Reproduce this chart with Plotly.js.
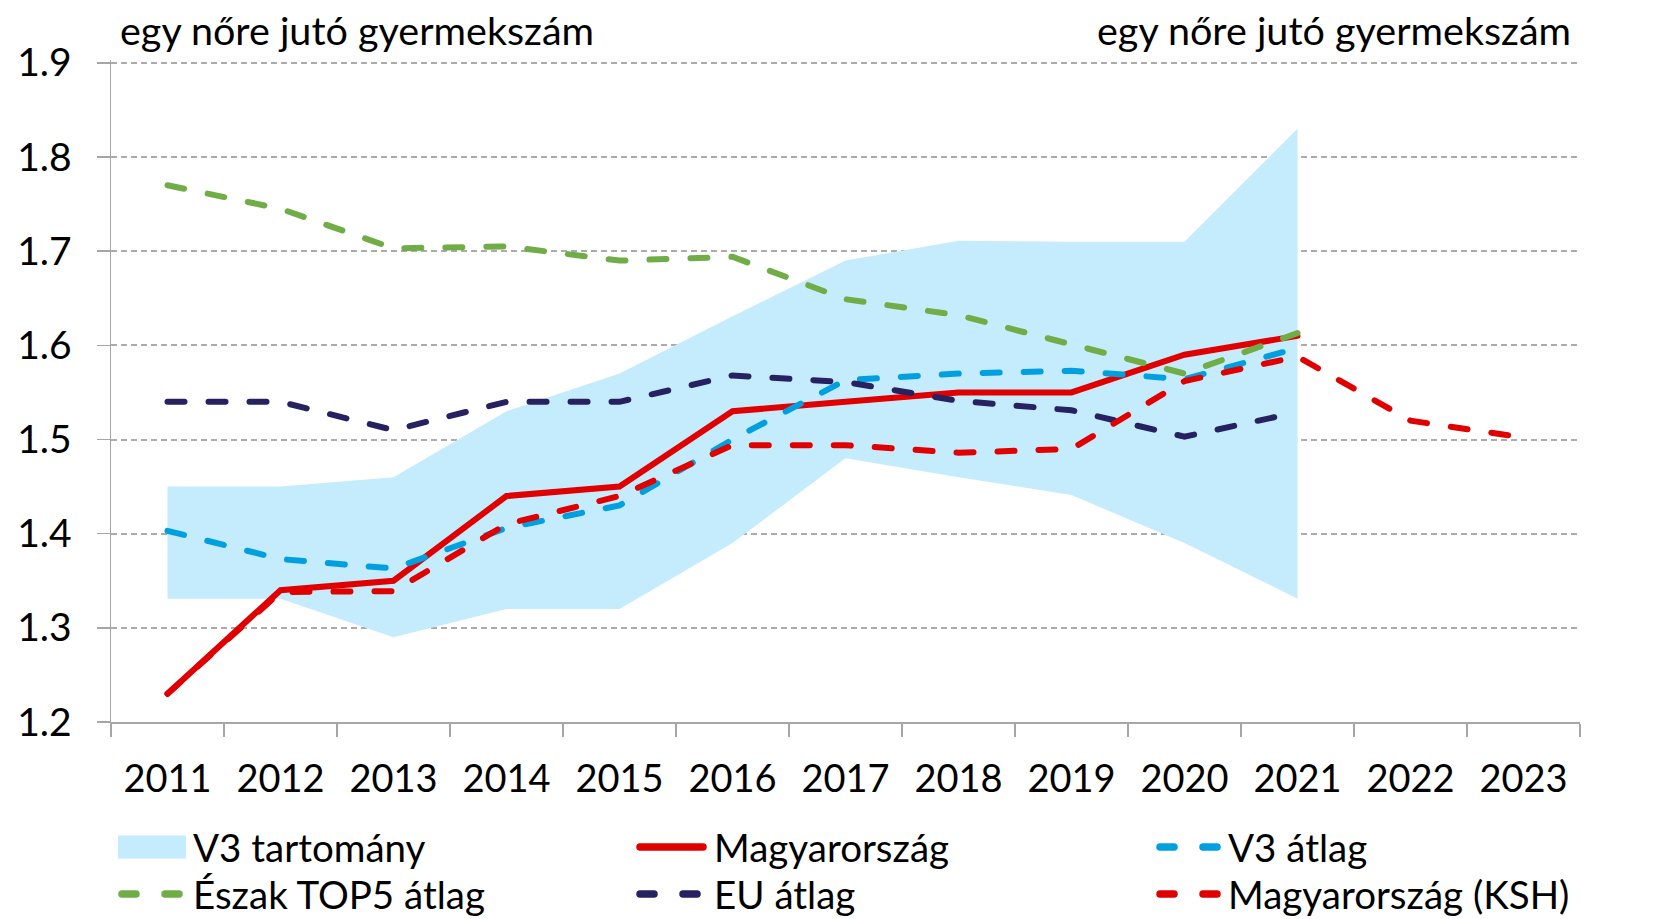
<!DOCTYPE html>
<html>
<head>
<meta charset="utf-8">
<script src="https://cdn.plot.ly/plotly-3.0.1.min.js"></script>
<style>
  html, body { margin: 0; padding: 0; background: #fff; }
  #chart { width: 1678px; height: 919px; }
  .scatterlayer .js-line { stroke-linecap: round; }
  .shapelayer path { stroke-linecap: round; }
</style>
</head>
<body>
<div id="chart"></div>
<script>
// ---- Data ----
const years = ['2011','2012','2013','2014','2015','2016','2017','2018','2019','2020','2021','2022','2023'];
const v3Min = [1.331, 1.331, 1.290, 1.320, 1.320, 1.390, 1.480, 1.460, 1.441, 1.390, 1.331];
const v3Max = [1.450, 1.450, 1.460, 1.530, 1.570, 1.631, 1.690, 1.711, 1.710, 1.710, 1.830];
const hungary = [1.23, 1.34, 1.35, 1.44, 1.45, 1.53, 1.54, 1.55, 1.55, 1.59, 1.61];
const v3Avg = [1.403, 1.373, 1.363, 1.406, 1.430, 1.500, 1.563, 1.570, 1.573, 1.564, 1.597];
const northTop5 = [1.770, 1.745, 1.703, 1.705, 1.690, 1.694, 1.649, 1.632, 1.601, 1.570, 1.613];
const euAvg = [1.540, 1.540, 1.510, 1.540, 1.540, 1.568, 1.561, 1.541, 1.531, 1.503, 1.529];
const hungaryKsh = [1.230, 1.338, 1.339, 1.410, 1.440, 1.494, 1.494, 1.486, 1.490, 1.562, 1.588, 1.520, 1.502];
const yTicks = [1.2, 1.3, 1.4, 1.5, 1.6, 1.7, 1.8, 1.9];
const axisTitle = 'egy nőre jutó gyermekszám';
const names = ['V3 tartomány', 'Magyarország', 'V3 átlag', 'Észak TOP5 átlag', 'EU átlag', 'Magyarország (KSH)'];

// ---- Styles ----
const C = {
  band: '#c5ecfd', red: '#e00000', blue: '#00a0e0', green: '#70ad47', navy: '#262262',
  grid: '#ababab', axis: '#a6a6a6'
};
const FONT = 'Lato, "Open Sans", sans-serif';
const LW = 6, DASH = '17px,24px';

const xs = arr => years.slice(0, arr.length);

const traces = [
  { x: xs(v3Min), y: v3Min, type: 'scatter', mode: 'lines', line: { width: 0, color: C.band },
    hoverinfo: 'skip', showlegend: false },
  { x: xs(v3Max), y: v3Max, type: 'scatter', mode: 'lines', line: { width: 0, color: C.band },
    fill: 'tonexty', fillcolor: C.band, name: names[0], showlegend: false },
  { x: xs(hungary), y: hungary, type: 'scatter', mode: 'lines', name: names[1],
    line: { color: C.red, width: LW }, showlegend: false },
  { x: xs(v3Avg), y: v3Avg, type: 'scatter', mode: 'lines', name: names[2],
    line: { color: C.blue, width: LW, dash: DASH }, showlegend: false },
  { x: xs(northTop5), y: northTop5, type: 'scatter', mode: 'lines', name: names[3],
    line: { color: C.green, width: LW, dash: DASH }, showlegend: false },
  { x: xs(euAvg), y: euAvg, type: 'scatter', mode: 'lines', name: names[4],
    line: { color: C.navy, width: LW, dash: DASH }, showlegend: false },
  { x: xs(hungaryKsh), y: hungaryKsh, type: 'scatter', mode: 'lines', name: names[5],
    line: { color: C.red, width: LW, dash: DASH }, showlegend: false }
];

// ---- Layout geometry ----
const W = 1678, H = 919;
const M = { l: 111, r: 98, t: 60, b: 197 };
const PW = W - M.l - M.r, PH = H - M.t - M.b;
const px = x => (x - M.l) / PW;
const py = y => (H - M.b - y) / PH;

// Manual legend (3 columns x 2 rows)
const colX = [118, 636, 1156];
const swW = [68, 71, 65];
const rowY = [847, 894];
const legendItems = [
  { kind: 'box', color: C.band, col: 0, row: 0, label: names[0] },
  { kind: 'solid', color: C.red, col: 1, row: 0, label: names[1] },
  { kind: 'dash', color: C.blue, col: 2, row: 0, label: names[2] },
  { kind: 'dash', color: C.green, col: 0, row: 1, label: names[3] },
  { kind: 'dash', color: C.navy, col: 1, row: 1, label: names[4] },
  { kind: 'dash', color: C.red, col: 2, row: 1, label: names[5] }
];
const shapes = [];
const annotations = [];
legendItems.forEach(it => {
  const x0 = colX[it.col], x1 = x0 + swW[it.col], yc = rowY[it.row];
  if (it.kind === 'box') {
    shapes.push({ type: 'rect', xref: 'paper', yref: 'paper', x0: px(x0), x1: px(x1),
      y0: py(yc + 11.5), y1: py(yc - 11.5), fillcolor: it.color, line: { width: 0 } });
  } else {
    shapes.push({ type: 'line', xref: 'paper', yref: 'paper', x0: px(x0 + 4), x1: px(x1 - 4),
      y0: py(yc), y1: py(yc),
      line: { color: it.color, width: 7.5, dash: it.kind === 'dash' ? '14px,29px' : 'solid' } });
  }
  annotations.push({ xref: 'paper', yref: 'paper', x: px(x1 + 6), y: py(yc), xanchor: 'left',
    yanchor: 'middle', text: it.label, showarrow: false, borderpad: 0,
    font: { family: FONT, size: 38.5, color: '#000' } });
});
annotations.push({ xref: 'paper', yref: 'paper', x: px(118), y: py(29), xanchor: 'left',
  yanchor: 'middle', text: axisTitle, showarrow: false, font: { family: FONT, size: 39.5, color: '#000' } });
annotations.push({ xref: 'paper', yref: 'paper', x: px(1573), y: py(29), xanchor: 'right',
  yanchor: 'middle', text: axisTitle, showarrow: false, font: { family: FONT, size: 39.5, color: '#000' } });

const yAxisCommon = {
  range: [1.2, 1.903], tickmode: 'array', tickvals: yTicks, ticktext: yTicks.map(v => v.toFixed(1)),
  ticks: 'outside', ticklen: 13, tickwidth: 1.5, tickcolor: C.axis,
  showline: true, linecolor: C.axis, linewidth: 1.5, zeroline: false,
  tickfont: { family: FONT, size: 39, color: '#000' }, ticklabelstandoff: 17, fixedrange: true
};

const layout = {
  width: W, height: H, margin: M, paper_bgcolor: '#fff', plot_bgcolor: '#fff',
  font: { family: FONT, color: '#000' }, showlegend: false,
  xaxis: {
    type: 'category', categoryorder: 'array', categoryarray: years, range: [-0.5, 12.5],
    tickson: 'boundaries', ticks: 'outside', ticklen: 13, tickwidth: 1.5, tickcolor: C.axis,
    showline: true, linecolor: C.axis, linewidth: 2, showgrid: false, zeroline: false,
    tickfont: { family: FONT, size: 38, color: '#000' }, ticklabelstandoff: 22, fixedrange: true
  },
  yaxis: Object.assign({}, yAxisCommon, {
    showgrid: true, gridcolor: C.grid, gridwidth: 2, griddash: '6px,4px'
  }),
  yaxis2: Object.assign({}, yAxisCommon, {
    overlaying: 'y', side: 'right', matches: 'y', showgrid: false, anchor: 'x'
  }),
  shapes: shapes,
  annotations: annotations
};

Plotly.newPlot('chart', traces, layout, { staticPlot: true, displayModeBar: false });
</script>
</body>
</html>
